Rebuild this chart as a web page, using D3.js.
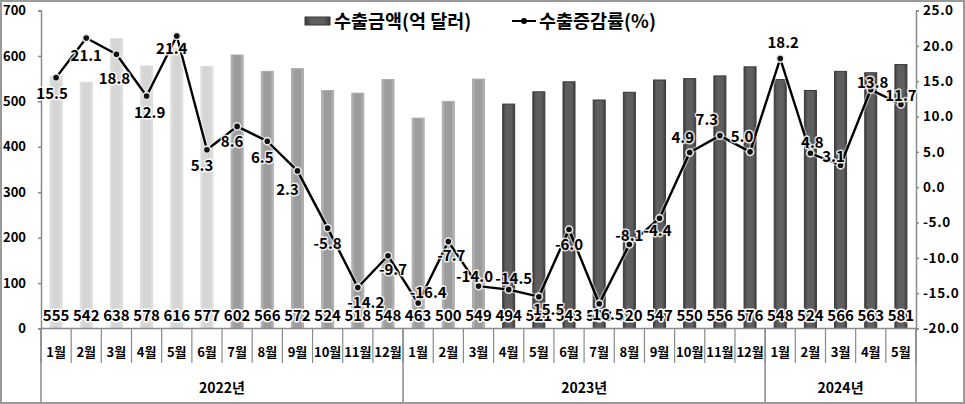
<!DOCTYPE html>
<html><head><meta charset="utf-8">
<script src="https://cdn.jsdelivr.net/npm/d3@7"></script>
<style>
html,body{margin:0;padding:0;background:#fff;}
svg text{font-family:"Noto Sans CJK KR","Noto Sans",sans-serif;font-weight:700;fill:#000;}
</style></head>
<body><svg id="c" width="965" height="404"></svg>
<script>
// ---- data ----
const months = ["1월","2월","3월","4월","5월","6월","7월","8월","9월","10월","11월","12월",
                "1월","2월","3월","4월","5월","6월","7월","8월","9월","10월","11월","12월",
                "1월","2월","3월","4월","5월"];
const years = ["2022년","2023년","2024년"];
const yearCounts = [12,12,5];
const exportsAmt = [555,542,638,578,616,577,602,566,572,524,518,548,
                    463,500,549,494,521,543,503,520,547,550,556,576,
                    548,524,566,563,581];
const growthRate = [15.5,21.1,18.8,12.9,21.4,5.3,8.6,6.5,2.3,-5.8,-14.2,-9.7,
                    -16.4,-7.7,-14.0,-14.5,-15.5,-6.0,-16.5,-8.1,-4.4,4.9,7.3,5.0,
                    18.2,4.8,3.1,13.8,11.7];
const leftTicks = [0,100,200,300,400,500,600,700];
const rightTicks = [-20,-15,-10,-5,0,5,10,15,20,25];
const seriesNames = ["수출금액(억 달러)","수출증감률(%)"];
// bar shade groups (index ranges): light, medium, dark
const barGroup = i => i < 6 ? 0 : (i < 15 ? 1 : 2);
// label offsets for growth labels [dx, dy] (placement only)
const growthLabelOffsets = [[-4,16],[0,18],[-2,24],[3,17],[-5,13],[-5,16],[-5,15],[-5,16],[-10,19],
  [0,15],[8,15],[5,14],[10,-10],[3,14],[-4,-10],[5,-11],[7,13],[0,15],[6,11],[0,-9],[-2,12],
  [-7,-15],[-13,-16],[-8,-15],[3,-16],[2,-11],[-7,-9],[2,-7],[0,-9]];

const fmt1 = v => d3.format(".1f")(v).replace("\u2212","-");

// ---- layout ----
const svg = d3.select("#c");
const L = 41, R = 916, T = 10.5, B = 328.5;
const x = d3.scaleBand().domain(d3.range(months.length)).range([L, R]).paddingInner(0).paddingOuter(0);
const yL = d3.scaleLinear().domain([0,700]).range([B, T]);
const yR = d3.scaleLinear().domain([-20,25]).range([B, T]);
const axisCol = "#8a8a8a";

// frame
svg.append("rect").attr("x",1).attr("y",1).attr("width",963).attr("height",402)
  .attr("fill","none").attr("stroke","#9a9a9a").attr("stroke-width",2);

// defs: gradients
const defs = svg.append("defs");
const grads = [
  ["g0", "#e2e2e2", "#d5d5d5"],
  ["g1", "#bbbbbb", "#9c9c9c"],
  ["g2", "#3c3c3c", "#5e5e5e"]
];
grads.forEach(([id, edge, mid]) => {
  const g = defs.append("linearGradient").attr("id", id).attr("x1","0%").attr("x2","100%");
  g.append("stop").attr("offset","0%").attr("stop-color", edge);
  g.append("stop").attr("offset","25%").attr("stop-color", mid);
  g.append("stop").attr("offset","75%").attr("stop-color", mid);
  g.append("stop").attr("offset","100%").attr("stop-color", edge);
});
const strokeCols = ["#dcdcdc","#ababab","#3a3a3a"];

// bars
const bw = 12;
svg.append("g").selectAll("rect").data(exportsAmt).join("rect")
  .attr("x",(d,i)=>x(i)+x.bandwidth()/2-bw/2)
  .attr("y",d=>yL(d))
  .attr("width",bw)
  .attr("height",d=>B-yL(d))
  .attr("fill",(d,i)=>`url(#g${barGroup(i)})`)
  .attr("stroke",(d,i)=>strokeCols[barGroup(i)])
  .attr("stroke-width",1);

// left axis
const axL = svg.append("g").attr("transform",`translate(${L},0)`)
  .call(d3.axisLeft(yL).tickValues(leftTicks).tickSize(3).tickPadding(12).tickFormat(d3.format("d")));
axL.select(".domain").attr("stroke",axisCol).attr("stroke-width",1.5);
axL.selectAll(".tick line").attr("stroke",axisCol).attr("stroke-width",1.5);
axL.selectAll(".tick text").style("font-size","13px").style("font-family",'"Noto Sans CJK KR",sans-serif').style("font-weight","700");

// right axis
const axR = svg.append("g").attr("transform",`translate(${R},0)`)
  .call(d3.axisRight(yR).tickValues(rightTicks).tickSize(3).tickPadding(4).tickFormat(fmt1));
axR.select(".domain").attr("stroke",axisCol).attr("stroke-width",1.5);
axR.selectAll(".tick line").attr("stroke",axisCol).attr("stroke-width",1.5);
axR.selectAll(".tick text").style("font-size","13.5px").style("letter-spacing","0.6px").style("font-family",'"Noto Sans CJK KR",sans-serif').style("font-weight","700");

// x axis line
svg.append("line").attr("x1",L).attr("x2",R).attr("y1",B).attr("y2",B).attr("stroke",axisCol).attr("stroke-width",1.5);

// month separators
const xg = svg.append("g");
xg.selectAll("line.m").data(d3.range(months.length+1)).join("line")
  .attr("x1",i=>i<months.length? x(i): R).attr("x2",i=>i<months.length? x(i): R)
  .attr("y1",B).attr("y2",363).attr("stroke",axisCol).attr("stroke-width",1.2);
xg.selectAll("text.m").data(months).join("text")
  .attr("x",(d,i)=>x(i)+x.bandwidth()/2).attr("y",357)
  .attr("text-anchor","middle").style("font-size","13px").text(d=>d);

// year separators and labels
let acc = 0;
const yearStarts = yearCounts.map(c => { const s = acc; acc += c; return s; });
const yearBounds = yearStarts.concat([months.length]);
xg.selectAll("line.y").data(yearBounds).join("line")
  .attr("x1",i=>i<months.length? x(i): R).attr("x2",i=>i<months.length? x(i): R)
  .attr("y1",B).attr("y2",402).attr("stroke",axisCol).attr("stroke-width",1.5);
xg.selectAll("text.y").data(years).join("text")
  .attr("x",(d,k)=>{const s=yearStarts[k], e=s+yearCounts[k]; const x0=x(s), x1=e<months.length? x(e): R; return (x0+x1)/2;})
  .attr("y",393).attr("text-anchor","middle").style("font-size","14px").text(d=>d);

// bar value labels
svg.append("g").selectAll("text").data(exportsAmt).join("text")
  .attr("x",(d,i)=>x(i)+x.bandwidth()/2).attr("y",321)
  .attr("text-anchor","middle").style("font-size","15px")
  .attr("stroke","#fff").attr("stroke-width",3).attr("paint-order","stroke").attr("stroke-linejoin","round")
  .text(d=>d);

// line
const line = d3.line().x((d,i)=>x(i)+x.bandwidth()/2).y(d=>yR(d));
svg.append("path").datum(growthRate).attr("d",line).attr("fill","none")
  .attr("stroke","#fff").attr("stroke-opacity",0.45).attr("stroke-width",5).attr("stroke-linejoin","round");
svg.append("path").datum(growthRate).attr("d",line).attr("fill","none")
  .attr("stroke","#000").attr("stroke-width",2.4).attr("stroke-linejoin","round");
svg.append("g").selectAll("circle").data(growthRate).join("circle")
  .attr("cx",(d,i)=>x(i)+x.bandwidth()/2).attr("cy",d=>yR(d)).attr("r",3.6)
  .attr("fill","#111").attr("stroke","#e6e6e6").attr("stroke-width",1.6);

// growth labels
svg.append("g").selectAll("text").data(growthRate).join("text")
  .attr("x",(d,i)=>x(i)+x.bandwidth()/2+growthLabelOffsets[i][0])
  .attr("y",(d,i)=>yR(d)+growthLabelOffsets[i][1])
  .attr("dy","0.36em")
  .attr("text-anchor","middle").style("font-size","15px")
  .attr("stroke","#fff").attr("stroke-width",3).attr("stroke-opacity",0.8).attr("paint-order","stroke").attr("stroke-linejoin","round")
  .text(d=>fmt1(d));

// legend
const lg = svg.append("g");
lg.append("rect").attr("x",305).attr("y",17).attr("width",25).attr("height",8)
  .attr("fill","url(#g2)").attr("stroke","#3a3a3a");
lg.append("text").attr("x",334).attr("y",21).attr("dy","0.36em").style("font-size","18.5px").text(seriesNames[0]);
lg.append("line").attr("x1",512).attr("x2",536).attr("y1",21).attr("y2",21).attr("stroke","#000").attr("stroke-width",2);
lg.append("circle").attr("cx",524).attr("cy",21).attr("r",3).attr("fill","#000");
lg.append("text").attr("x",539).attr("y",21).attr("dy","0.36em").style("font-size","18.5px").text(seriesNames[1]);
</script></body></html>
